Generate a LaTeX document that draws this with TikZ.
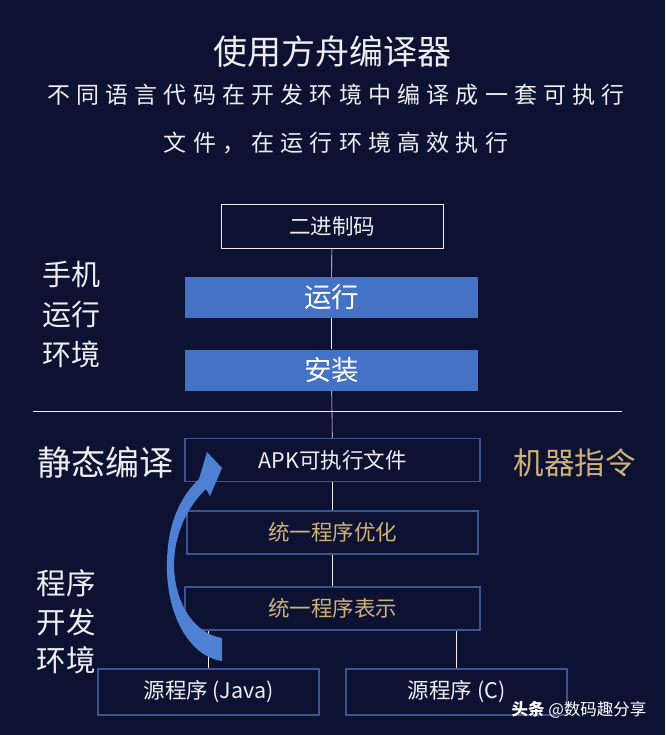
\documentclass[tikz,border=0pt]{standalone}
\usepackage{fontspec}
\usepackage{xcolor}
\usepackage{tikz}
\usetikzlibrary{positioning,calc}
\newfontfamily\cjk{Noto Sans CJK SC}
\newfontfamily\cjkwide[LetterSpace=27]{Noto Sans CJK SC}
\definecolor{arkbg}{RGB}{14,18,50}
\definecolor{arkblue}{RGB}{68,114,196}
\definecolor{arkarrow}{RGB}{78,128,212}
\definecolor{arkframe}{RGB}{62,84,146}
\definecolor{arkgold}{RGB}{206,176,122}
\definecolor{arktext}{RGB}{238,238,240}
\tikzset{
    headline/.style={font=\cjk\fontsize{34}{38}\selectfont, text=arktext},
    subline/.style={font=\cjkwide\fontsize{23}{26}\selectfont, text=arktext},
    sidelabel/.style={font=\cjk\fontsize{29}{40}\selectfont, text=arktext, align=center, inner sep=0pt},
    outbox/.style={rectangle, draw=arktext, line width=0.9pt, text=arktext, font=\cjk\fontsize{21.5}{24}\selectfont, minimum width=222pt, minimum height=44pt},
    stagebox/.style={rectangle, fill=arkblue, text=white, font=\cjk\fontsize{27.5}{30}\selectfont, minimum width=293pt, minimum height=41pt},
    flowbox/.style={rectangle, draw=arkframe, line width=1.2pt, text=arktext, font=\cjk\fontsize{21.5}{24}\selectfont, minimum width=295pt, minimum height=43pt},
    srcbox/.style={flowbox, minimum width=221pt, minimum height=46pt},
    link/.style={draw=arktext, line width=0.6pt}
}
\begin{document}
\begin{tikzpicture}[x=1pt, y=-1pt]
    % background
    \fill[arkbg] (0,0) rectangle (665,735);
    \useasboundingbox (0,0) rectangle (665,735);

    % heading
    \node [headline] (title) at (332,52) {使用方舟编译器};
    \node [subline] (sub1) at (336,95) {不同语言代码在开发环境中编译成一套可执行};
    \node [subline] (sub2) at (336,143) {文件，在运行环境高效执行};

    % runtime on the phone
    \node [outbox] (binary) at (332,226) {二进制码};
    \node [stagebox] (run) at (331.5,297.5) {运行};
    \node [stagebox] (install) at (331.5,370) {安装};
    \node [sidelabel] (phone) at (71,315) {手机\\运行\\环境};

    % divider
    \coordinate (divL) at (33,411);
    \coordinate (divR) at (622,411);
    \draw [arktext, line width=0.9pt] (divL) -- (divR);

    % static compilation
    \node [flowbox] (apk) at (332.5,460) {APK可执行文件};
    \node [flowbox, minimum width=291pt, text=arkgold] (optimize) at (332.5,532.5) {统一程序优化};
    \node [flowbox, text=arkgold] (unified) at (332.5,608.5) {统一程序表示};
    \node [srcbox] (java) at (208.5,692) {源程序 (Java)};
    \node [srcbox] (csrc) at (456.5,692) {源程序 (C)};

    \node [sidelabel, font=\cjk\fontsize{34}{36}\selectfont] (static) at (105.5,463) {静态编译};
    \node [sidelabel, font=\cjk\fontsize{30.5}{34}\selectfont, text=arkgold] (machine) at (574.5,463) {机器指令};
    \node [sidelabel, font=\cjk\fontsize{29.5}{38.5}\selectfont] (devenv) at (66,622) {程序\\开发\\环境};

    % connections
    \path [link] (binary) -- (run);
    \path [link] (run) -- (install);
    \path [link] (install) -- (apk);
    \path [link] (apk) -- (optimize);
    \path [link] (optimize) -- (unified);
    \path [link] (java.north) -- (java.north |- unified.south);
    \path [link] (csrc.north) -- (csrc.north |- unified.south);

    % curved compile arrow
    \fill [arkarrow] (222,661) .. controls (188,656) and (165,612) .. (167,560)
        .. controls (168,522) and (181,496) .. (199,479)
        -- (207,452) -- (222,468) -- (210,496) -- (206,489)
        .. controls (189,505) and (174,532) .. (174,566)
        .. controls (175,606) and (196,634) .. (222,638) -- cycle;

    % watermark
    \node [font=\cjk\fontsize{16.5}{18}\selectfont, text=white, anchor=east] (mark) at (650,710) {{\bfseries 头条} @数码趣分享};
\end{tikzpicture}
\end{document}
